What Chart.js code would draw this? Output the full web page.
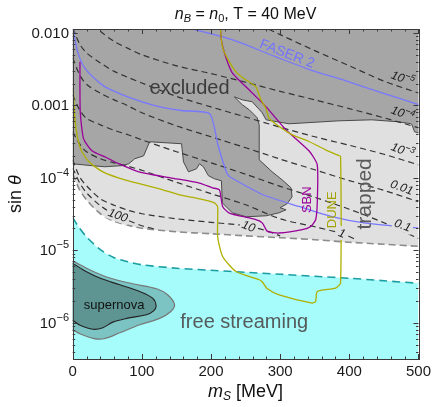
<!DOCTYPE html>
<html><head><meta charset="utf-8">
<script src="https://cdn.jsdelivr.net/npm/chart.js@4.4.1/dist/chart.umd.min.js"></script>
<style>html,body{margin:0;padding:0;background:#fff;}</style>
</head><body>
<canvas id="c" width="435" height="407"></canvas>
<script>
// ---- axis ranges and ticks ----
const massRange = [0, 500];
const sinRange = [3.16e-7, 0.0113];
const xTickValues = [0, 100, 200, 300, 400, 500];
const yTickValues = [1e-2, 1e-3, 1e-4, 1e-5, 1e-6];
const yTickBase = ['0.010', '0.001', '10', '10', '10'];
const yTickExp = ['', '', '\u22124', '\u22125', '\u22126'];

// ---- region boundaries (m_S in MeV, sin theta) ----
const trappedMass = [0, 10, 20, 40, 60, 80, 100, 150, 200, 250, 300, 350, 400, 450, 500];
const trappedSin = [1.135e-4, 6.83e-5, 4.98e-5, 3.19e-5, 2.51e-5, 2.21e-5, 2.01e-5, 1.80e-5, 1.69e-5, 1.58e-5, 1.49e-5, 1.40e-5, 1.29e-5, 1.21e-5, 1.135e-5];

const streamMass = [0, 10, 20, 40, 60, 80, 100, 150, 200, 250, 300, 350, 400, 450, 500];
const streamSin = [2.81e-5, 2.01e-5, 1.53e-5, 1.02e-5, 7.88e-6, 6.94e-6, 6.31e-6, 5.65e-6, 5.30e-6, 4.97e-6, 4.67e-6, 4.38e-6, 4.11e-6, 3.80e-6, 3.50e-6];

const excludedMass = [-10, -10, 0, 27.8, 46.5, 71, 81, 89.7, 102.6, 111.2, 157.4, 160.2, 167.4, 179, 183.3, 189, 196.2, 204.9, 215, 216.4, 230.8, 251, 279.7, 298.5, 308.5, 299.9, 310, 317.2, 315.7, 302.8, 288.4, 269.7, 269.7, 266.8, 255.3, 245.2, 233.7, 245.2, 259.6, 274, 279.7, 312.9, 384.9, 432.4, 471.3, 490, 494.3, 500, 510, 510];
const excludedSin = [0.05, 1.56e-4, 1.56e-4, 1.47e-4, 1.42e-4, 1.47e-4, 1.56e-4, 1.83e-4, 2.01e-4, 3.14e-4, 2.95e-4, 1.66e-4, 1.21e-4, 1.33e-4, 1.56e-4, 1.42e-4, 1.07e-4, 9.7e-5, 9.1e-5, 4.5e-5, 3.29e-5, 2.9e-5, 2.99e-5, 3.29e-5, 3.62e-5, 3.86e-5, 4.38e-5, 5.47e-5, 7.28e-5, 9.38e-5, 1.21e-4, 1.77e-4, 5.38e-4, 6.73e-4, 8.67e-4, 1.02e-3, 1.31e-3, 1.19e-3, 1.12e-3, 7.89e-4, 6.31e-4, 5.56e-4, 6.11e-4, 6.31e-4, 5.92e-4, 5.56e-4, 4.31e-4, 4.17e-4, 4.17e-4, 0.05];

const snOuterMass = [-10, 0, 10.5, 29.2, 53.7, 86.8, 121.4, 137.2, 147.3, 141.5, 125.7, 96.9, 68.1, 45.1, 29.2, 10.5, 0, -10];
const snOuterSin = [7.02e-6, 7.02e-6, 6.31e-6, 5.13e-6, 4.14e-6, 3.45e-6, 2.94e-6, 2.43e-6, 1.77e-6, 1.42e-6, 1.15e-6, 9.37e-7, 7.27e-7, 6.01e-7, 6.1e-7, 7.05e-7, 7.89e-7, 7.89e-7];
const snInnerMass = [-10, 0, 14.8, 39.3, 68.1, 96.9, 115.6, 120.6, 117, 106.5, 78.2, 58, 43.6, 29.2, 10.5, 0, -10];
const snInnerSin = [6.52e-6, 6.52e-6, 5.38e-6, 4.14e-6, 3.34e-6, 2.70e-6, 2.18e-6, 1.71e-6, 1.46e-6, 1.29e-6, 1.15e-6, 1.02e-6, 8.53e-7, 8.13e-7, 9.24e-7, 1.07e-6, 1.07e-6];

// ---- contours of constant value (dashed) ----
const contourNames = ['1e-5', '1e-4', '1e-3', '0.01', '0.1', '1', '10', '100'];
const contourMass = [
  [270, 300, 350, 400, 450, 500],
  [30, 40, 60, 80, 100, 150, 200, 250, 300, 350, 400, 450, 500],
  [0, 10, 20, 40, 60, 80, 100, 150, 200, 250, 300, 350, 400, 450, 500],
  [0, 10, 20, 40, 60, 80, 100, 150, 200, 250, 300, 350, 400, 450, 500],
  [0, 10, 20, 40, 60, 80, 100, 150, 200, 250, 300, 350, 400, 450, 500],
  [0, 10, 20, 40, 60, 80, 100, 150, 200, 250, 300, 350, 390, 410],
  [0, 10, 20, 40, 60, 80, 100, 150, 200, 250, 280, 300],
  [0, 10, 20, 40, 60, 80, 100, 120]
];
const contourSin = [
  [0.0129, 0.00944, 0.00568, 0.00351, 0.00216, 0.00148],
  [0.0133, 0.0105, 0.0076, 0.0061, 0.00498, 0.00351, 0.00274, 0.00208, 0.00156, 0.00119, 0.0009, 0.000673, 0.00049],
  [0.0117, 0.00705, 0.0053, 0.00385, 0.00294, 0.00243, 0.00203, 0.00133, 0.00095, 0.00069, 0.000499, 0.000368, 0.000281, 0.000211, 0.000151],
  [0.00452, 0.00264, 0.00195, 0.00147, 0.00119, 0.000984, 0.000789, 0.000521, 0.000368, 0.00026, 0.000181, 0.000129, 9.14e-5, 6.7e-5, 4.67e-5],
  [0.0014, 0.000867, 0.000662, 0.000538, 0.000452, 0.000392, 0.000334, 0.000229, 0.000161, 0.000112, 7.63e-5, 5.38e-5, 3.68e-5, 2.4e-5, 1.45e-5],
  [0.00043, 0.000294, 0.000229, 0.000183, 0.000161, 0.000144, 0.000127, 8.67e-5, 6.05e-5, 4.25e-5, 2.72e-5, 2.11e-5, 1.69e-5, 1.4e-5],
  [0.000177, 0.000103, 7.76e-5, 5.13e-5, 4.18e-5, 3.56e-5, 3.19e-5, 2.72e-5, 2.43e-5, 2.18e-5, 1.86e-5, 1.58e-5],
  [0.000137, 8.53e-5, 6.21e-5, 4.11e-5, 3.14e-5, 2.59e-5, 2.18e-5, 1.95e-5]
];

// ---- experimental reach curves ----
const faserUpperMass = [160, 169.1, 231.2, 293.7, 341.6, 399.2, 447.2, 500];
const faserUpperSin = [0.0128, 0.0116, 0.008, 0.00467, 0.00314, 0.00211, 0.00149, 0.00102];
const faserLowerMass = [0.5, 3.3, 8.1, 16.3, 32.1, 46.9, 80.6, 118.9, 157.4, 198.1, 210.2, 222.2, 226.5, 275.4, 327.2, 374.8, 423.3, 500];
const faserLowerSin = [0.0118, 0.008, 0.00513, 0.0034, 0.00232, 0.0018, 0.0013, 0.000993, 0.000848, 0.000763, 0.000279, 0.00012, 0.000104, 5.83e-5, 4.02e-5, 2.92e-5, 2.37e-5, 2.02e-5];

const sbnMass = [10.5, 10.9, 15.8, 27.8, 47.9, 68.1, 95.5, 141.5, 183.3, 202, 212.1, 216.8, 226.5, 264.9, 274.4, 281.6, 298.5, 332, 344.1, 351.3, 353.6, 353.6, 341.6, 308.5, 279.7, 258.1, 230.8, 220.7, 215, 212.8];
const sbnSin = [0.00398, 0.000813, 0.000345, 0.000236, 0.000192, 0.000154, 0.000121, 0.0001, 8.45e-5, 7.28e-5, 6.83e-5, 4.02e-5, 3.26e-5, 2.64e-5, 2.37e-5, 1.82e-5, 1.73e-5, 1.92e-5, 2.13e-5, 2.64e-5, 4.48e-5, 0.000151, 0.000236, 0.000459, 0.000953, 0.00153, 0.00281, 0.00482, 0.008, 0.0151];

const duneMass = [0.7, 3.3, 7.6, 13.4, 24.9, 43.6, 75.3, 125.7, 154.5, 183.3, 204.9, 209.6, 209.6, 216.8, 236.1, 269.7, 274, 281.6, 298.5, 346.4, 351.3, 353.6, 380.1, 387.3, 387.3, 382.4, 365.7, 341.6, 317.6, 298.5, 284.1, 279.3, 272.1, 264.9, 248.1, 236.1, 226.5, 217.8, 215, 212.8];
const duneSin = [0.00174, 0.000631, 0.000334, 0.000229, 0.000161, 0.000121, 9.38e-5, 7.05e-5, 5.83e-5, 5.13e-5, 4.52e-5, 3.98e-5, 1.55e-5, 8.2e-6, 5.1e-6, 3.92e-6, 3.68e-6, 2.94e-6, 2.43e-6, 1.87e-6, 1.97e-6, 2.7e-6, 3.01e-6, 3.53e-6, 0.000197, 0.000207, 0.000243, 0.000317, 0.000392, 0.00051, 0.000665, 0.000914, 0.00119, 0.0018, 0.00232, 0.0029, 0.00398, 0.00583, 0.008, 0.0151];

// ---- text placed in the plot (anchor in data units) ----
const regionLabels = [
  {text: 'excluded', m: 169, s: 0.00169, size: 20, color: '#3c3c3c', rot: 0},
  {text: 'trapped', m: 423, s: 6.0e-5, size: 21, color: '#5a5a5a', rot: -90},
  {text: 'free streaming', m: 248, s: 1.0e-6, size: 20, color: '#555a5a', rot: 0},
  {text: 'supernova', m: 60, s: 1.71e-6, size: 13, color: '#111', rot: 0},
  {text: 'SBN', m: 339, s: 4.98e-5, size: 13, color: '#990099', rot: -90},
  {text: 'DUNE', m: 375, s: 3.62e-5, size: 13, color: '#a3a300', rot: -90},
  {text: 'FASER 2', m: 310, s: 0.0051, size: 14, color: '#7272ff', rot: 21}
];
const contourLabelBase = ['10', '10', '10', '0.01', '0.1', '1', '10', '100'];
const contourLabelExp = ['\u22125', '\u22124', '\u22123', '', '', '', '', ''];
const contourLabelMass = [477, 477, 477, 475.6, 477, 389.2, 254, 65.2];
const contourLabelSin = [0.00232, 7.64e-4, 2.36e-4, 7.28e-5, 2.18e-5, 1.69e-5, 2.11e-5, 2.99e-5];
const contourLabelBg = ['#a6a6a6', '#a6a6a6', '#e0e0e0', '#e0e0e0', '#e0e0e0', '#e0e0e0', '#e0e0e0', '#e0e0e0'];

const FONT = "'Liberation Sans', Arial, sans-serif";
const pts = (ms, ss) => ms.map((m, i) => ({x: m, y: ss[i]}));

const base = {pointRadius: 0, pointHoverRadius: 0, clip: 0, tension: 0.3, fill: false};

const datasets = [];
datasets.push(Object.assign({}, base, {
  data: pts(trappedMass, trappedSin), borderColor: '#8c8c8c', borderWidth: 1.6,
  borderDash: [7, 4], fill: 'end', backgroundColor: '#e0e0e0', order: 20
}));
datasets.push(Object.assign({}, base, {
  data: pts(streamMass, streamSin), borderColor: '#1a9ea2', borderWidth: 1.6,
  borderDash: [8, 5], fill: 'start', backgroundColor: '#a6fbfb', order: 19
}));
datasets.push(Object.assign({}, base, {
  data: pts(excludedMass, excludedSin), borderColor: '#4a4a4a', borderWidth: 1,
  fill: 'shape', backgroundColor: '#a6a6a6', tension: 0, order: 18
}));
datasets.push(Object.assign({}, base, {
  data: pts(snOuterMass, snOuterSin), borderColor: '#777', borderWidth: 1.2,
  fill: 'shape', backgroundColor: '#7cc4c3', tension: 0.35, order: 17
}));
datasets.push(Object.assign({}, base, {
  data: pts(snInnerMass, snInnerSin), borderColor: '#222', borderWidth: 1.1,
  fill: 'shape', backgroundColor: '#5e9592', tension: 0.35, order: 16
}));
contourMass.forEach((ms, i) => {
  datasets.push(Object.assign({}, base, {
    data: pts(ms, contourSin[i]), borderColor: '#333', borderWidth: 1.2,
    borderDash: [6, 4], order: 10
  }));
});
datasets.push(Object.assign({}, base, {data: pts(faserUpperMass, faserUpperSin), borderColor: '#7878ff', borderWidth: 1.3, order: 5}));
datasets.push(Object.assign({}, base, {data: pts(faserLowerMass, faserLowerSin), borderColor: '#7878ff', borderWidth: 1.3, tension: 0.2, order: 5}));
datasets.push(Object.assign({}, base, {data: pts(sbnMass, sbnSin), borderColor: '#990099', borderWidth: 1.3, tension: 0.2, order: 4}));
datasets.push(Object.assign({}, base, {data: pts(duneMass, duneSin), borderColor: '#afaf00', borderWidth: 1.3, tension: 0.2, order: 3}));

function drawRich(ctx, parts, x, y, align) {
  let w = 0;
  parts.forEach(p => { ctx.font = p.f; w += ctx.measureText(p.t).width; });
  let cx = align === 'right' ? x - w : (align === 'center' ? x - w / 2 : x);
  ctx.textAlign = 'left';
  parts.forEach(p => {
    ctx.font = p.f;
    ctx.fillText(p.t, cx, y + (p.dy || 0));
    cx += ctx.measureText(p.t).width;
  });
  return w;
}

const decor = {
  id: 'decor',
  afterDatasetsDraw(chart) {
    const ctx = chart.ctx, xs = chart.scales.x, ys = chart.scales.y, a = chart.chartArea;
    ctx.save();
    ctx.beginPath(); ctx.rect(a.left, a.top, a.right - a.left, a.bottom - a.top); ctx.clip();
    // contour value labels sitting in gaps of the dashed lines
    contourLabelBase.forEach((b, i) => {
      const px = xs.getPixelForValue(contourLabelMass[i]);
      const py = ys.getPixelForValue(contourLabelSin[i]);
      ctx.save();
      ctx.translate(px, py); ctx.rotate(20 * Math.PI / 180);
      ctx.font = 'italic 12px ' + FONT;
      let w = ctx.measureText(b).width;
      ctx.font = 'italic 9px ' + FONT;
      w += ctx.measureText(contourLabelExp[i]).width;
      ctx.fillStyle = contourLabelBg[i];
      ctx.fillRect(-w / 2 - 2, -7, w + 4, 13);
      ctx.fillStyle = '#1a1a1a';
      ctx.textBaseline = 'middle';
      drawRich(ctx, [{t: b, f: 'italic 12px ' + FONT}, {t: contourLabelExp[i], f: 'italic 9px ' + FONT, dy: -4}], 0, 0, 'center');
      ctx.restore();
    });
    regionLabels.forEach(l => {
      const px = xs.getPixelForValue(l.m), py = ys.getPixelForValue(l.s);
      ctx.save();
      ctx.translate(px, py); ctx.rotate(l.rot * Math.PI / 180);
      ctx.font = l.size + 'px ' + FONT;
      ctx.fillStyle = l.color; ctx.textAlign = 'center'; ctx.textBaseline = 'middle';
      ctx.fillText(l.text, 0, 0);
      ctx.restore();
    });
    ctx.restore();
  },
  afterDraw(chart) {
    const ctx = chart.ctx, xs = chart.scales.x, ys = chart.scales.y, a = chart.chartArea;
    ctx.save();
    ctx.strokeStyle = '#3a3a3a'; ctx.lineWidth = 1;
    ctx.beginPath();
    // minor/major ticks on all four sides, pointing inward
    for (let v = massRange[0]; v <= massRange[1]; v += 20) {
      const px = Math.round(xs.getPixelForValue(v)) + 0.5;
      const len = v % 100 === 0 ? 5 : 2.5;
      ctx.moveTo(px, a.bottom); ctx.lineTo(px, a.bottom - len);
      ctx.moveTo(px, a.top); ctx.lineTo(px, a.top + len);
    }
    for (let e = -7; e <= -2; e++) {
      for (let k = 1; k <= 9; k++) {
        const v = k * Math.pow(10, e);
        if (v < sinRange[0] || v > sinRange[1]) continue;
        const py = Math.round(ys.getPixelForValue(v)) + 0.5;
        const len = k === 1 ? 5 : 2.5;
        ctx.moveTo(a.left, py); ctx.lineTo(a.left + len, py);
        ctx.moveTo(a.right, py); ctx.lineTo(a.right - len, py);
      }
    }
    ctx.stroke();
    ctx.strokeRect(Math.round(a.left) + 0.5, Math.round(a.top) + 0.5, Math.round(a.right - a.left), Math.round(a.bottom - a.top));

    // y tick labels
    ctx.fillStyle = '#1a1a1a'; ctx.textBaseline = 'middle';
    yTickValues.forEach((v, i) => {
      const py = ys.getPixelForValue(v);
      const parts = [{t: yTickBase[i], f: '15px ' + FONT}];
      if (yTickExp[i]) parts.push({t: yTickExp[i], f: '11px ' + FONT, dy: -6});
      drawRich(ctx, parts, 69, py + 1, 'right');
    });

    // title and axis titles
    ctx.fillStyle = '#111';
    drawRich(ctx, [
      {t: 'n', f: 'italic 16px ' + FONT}, {t: 'B', f: 'italic 11px ' + FONT, dy: 4},
      {t: ' = ', f: '16px ' + FONT}, {t: 'n', f: 'italic 16px ' + FONT}, {t: '0', f: '11px ' + FONT, dy: 4},
      {t: ', T = 40 MeV', f: '16px ' + FONT}
    ], (a.left + a.right) / 2, 15, 'center');
    drawRich(ctx, [
      {t: 'm', f: 'italic 18px ' + FONT}, {t: 'S', f: 'italic 12px ' + FONT, dy: 5},
      {t: ' [MeV]', f: '18px ' + FONT}
    ], (a.left + a.right) / 2, 392, 'center');
    ctx.save();
    ctx.translate(16, (a.top + a.bottom) / 2); ctx.rotate(-Math.PI / 2);
    drawRich(ctx, [{t: 'sin ', f: '18px ' + FONT}, {t: '\u03B8', f: 'italic 18px ' + FONT}], 0, 0, 'center');
    ctx.restore();
    ctx.restore();
  }
};

new Chart(document.getElementById('c'), {
  type: 'line',
  data: {datasets},
  options: {
    responsive: false, animation: false, devicePixelRatio: 1, events: [],
    layout: {padding: {top: 29, right: 15, left: 0, bottom: 0}},
    elements: {line: {capBezierPoints: false}},
    plugins: {legend: {display: false}, tooltip: {enabled: false}},
    scales: {
      x: {
        type: 'linear', min: massRange[0], max: massRange[1],
        grid: {display: false, drawTicks: false}, border: {display: false},
        afterBuildTicks: s => { s.ticks = xTickValues.map(v => ({value: v})); },
        ticks: {padding: 4, color: '#1a1a1a', font: {family: FONT, size: 15}, maxRotation: 0, autoSkip: false},
        afterFit: s => { s.height = 48; }
      },
      y: {
        type: 'logarithmic', min: sinRange[0], max: sinRange[1],
        grid: {display: false, drawTicks: false}, border: {display: false},
        ticks: {display: false},
        afterFit: s => { s.width = 72.7; }
      }
    }
  },
  plugins: [decor]
});
</script>
</body></html>
